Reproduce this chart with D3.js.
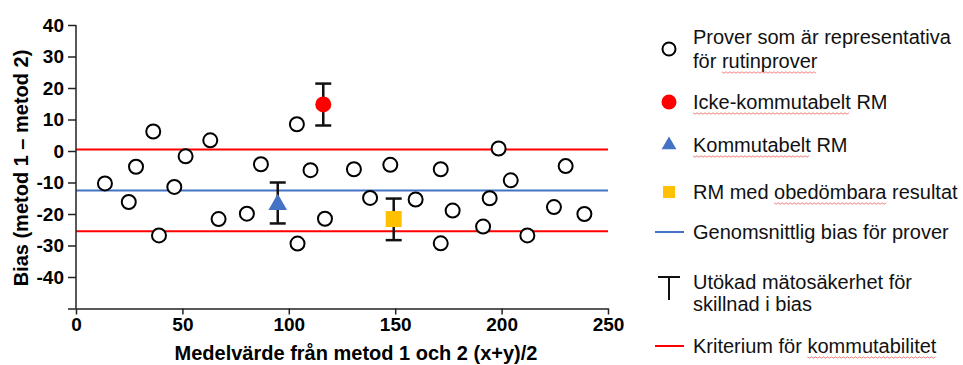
<!DOCTYPE html>
<html>
<head>
<meta charset="utf-8">
<script src="https://cdn.jsdelivr.net/npm/d3@7"></script>
<style>
  body { margin: 0; background: #fff; }
  text { font-family: "Liberation Sans", Arial, sans-serif; }
</style>
</head>
<body>
<div id="chart"></div>
<script>
// Routine samples (x = mean of both methods, y = bias)
const sampleX = [13.6, 24.8, 28.2, 36.3, 39.0, 46.2, 51.5, 63.1, 67.0, 80.3, 86.9, 103.8, 104.1, 110.2, 117.0,
  130.6, 138.2, 147.7, 159.6, 171.4, 171.4, 177.0, 191.3, 194.4, 198.6, 204.3, 212.1, 224.6, 230.1, 238.9];
const sampleY = [-10.3, -16.2, -5.0, 6.2, -26.8, -11.4, -1.7, 3.4, -21.6, -19.9, -4.2, 8.5, -29.4, -6.1, -21.5,
  -5.8, -14.9, -4.4, -15.4, -5.8, -29.3, -18.9, -24.0, -15.0, 0.8, -9.3, -26.8, -17.8, -4.8, -20.0];

// Reference materials: [x, bias, lower, upper]
const rmNonCommutable = [116.2, 14.8, 8.1, 21.4];
const rmCommutable = [94.8, -17.0, -23.0, -10.0];
const rmUnassessable = [149.3, -21.6, -28.3, -15.1];

const meanBias = -12.5;
const criterionLimits = [0.5, -25.5];

const xTicks = [0, 50, 100, 150, 200, 250];
const yTicks = [-50, -40, -30, -20, -10, 0, 10, 20, 30, 40];

const legendItems = [
  { kind: "circle", lines: ["Prover som är representativa", "för rutinprover"], wavy: ["rutinprover"] },
  { kind: "dot", lines: ["Icke-kommutabelt RM"], wavy: ["Icke-kommutabelt"] },
  { kind: "triangle", lines: ["Kommutabelt RM"], wavy: ["Kommutabelt"] },
  { kind: "square", lines: ["RM med obedömbara resultat"], wavy: ["obedömbara"] },
  { kind: "blueline", lines: ["Genomsnittlig bias för prover"], wavy: [] },
  { kind: "errbar", lines: ["Utökad mätosäkerhet för", "skillnad i bias"], wavy: [] },
  { kind: "redline", lines: ["Kriterium för kommutabilitet"], wavy: ["kommutabilitet"] }
];
const legendY = [49, 102, 145, 192, 232, 293, 346];

const RED = "#ff0000", BLUE = "#4472c4", YELLOW = "#ffc000";

const width = 963, height = 365;
const svg = d3.select("#chart").append("svg")
  .attr("width", width).attr("height", height);

const x = d3.scaleLinear().domain([0, 250]).range([76, 608]);
const y = d3.scaleLinear().domain([-50, 40]).range([308.5, 25]);

//Reference lines
svg.append("line")
  .attr("x1", x(0)).attr("x2", x(250))
  .attr("y1", y(meanBias)).attr("y2", y(meanBias))
  .attr("stroke", BLUE).attr("stroke-width", 2);
svg.selectAll(".crit").data(criterionLimits).join("line")
  .attr("class", "crit")
  .attr("x1", x(0)).attr("x2", x(250))
  .attr("y1", d => y(d)).attr("y2", d => y(d))
  .attr("stroke", RED).attr("stroke-width", 2);

//Axes
const yAxis = svg.append("g")
  .attr("transform", `translate(${x(0)},0)`)
  .call(d3.axisLeft(y).tickValues(yTicks).tickSize(8).tickPadding(4)
    .tickFormat(d => d === -50 ? "" : d));
const xAxis = svg.append("g")
  .attr("transform", `translate(0,${y(-50)})`)
  .call(d3.axisBottom(x).tickValues(xTicks).tickSize(6).tickPadding(3).tickSizeOuter(0));
[yAxis, xAxis].forEach(g => {
  g.selectAll("path, line").attr("stroke", "#222").attr("stroke-width", 1.5);
  g.selectAll("text").attr("fill", "#000")
    .style("font-family", "'Liberation Sans', Arial, sans-serif")
    .style("font-size", "19px").style("font-weight", "bold");
});
yAxis.select(".domain").attr("d", `M0,${y(40)}V${y(-50)}`);

//Axis titles
svg.append("text")
  .attr("x", 356).attr("y", 360)
  .attr("text-anchor", "middle")
  .style("font-size", "20px").style("font-weight", "bold")
  .text("Medelvärde från metod 1 och 2 (x+y)/2");
svg.append("text")
  .attr("transform", `translate(28,${168}) rotate(-90)`)
  .attr("text-anchor", "middle")
  .style("font-size", "20px").style("font-weight", "bold")
  .text("Bias (metod 1 – metod 2)");

//Error bars
function errorBar(g, cx, lo, hi, cap) {
  g.append("line").attr("x1", cx).attr("x2", cx).attr("y1", lo).attr("y2", hi)
    .attr("stroke", "#111").attr("stroke-width", 2.5);
  [lo, hi].forEach(v => g.append("line")
    .attr("x1", cx - cap / 2).attr("x2", cx + cap / 2).attr("y1", v).attr("y2", v)
    .attr("stroke", "#111").attr("stroke-width", 2.5));
}
const bars = svg.append("g");
[rmNonCommutable, rmCommutable, rmUnassessable].forEach(r =>
  errorBar(bars, x(r[0]), y(r[2]), y(r[3]), 16));

//Samples
svg.selectAll(".sample")
  .data(d3.zip(sampleX, sampleY))
  .join("circle")
  .attr("class", "sample")
  .attr("cx", d => x(d[0]))
  .attr("cy", d => y(d[1]))
  .attr("r", 7)
  .attr("fill", "#fff")
  .attr("stroke", "#000")
  .attr("stroke-width", 2);

//Reference material markers
const triangle = d3.symbol().type(d3.symbolTriangle);
svg.append("circle")
  .attr("cx", x(rmNonCommutable[0])).attr("cy", y(rmNonCommutable[1]))
  .attr("r", 8).attr("fill", RED);
svg.append("path")
  .attr("d", triangle.size(150)())
  .attr("transform", `translate(${x(rmCommutable[0])},${y(rmCommutable[1])})`)
  .attr("fill", BLUE);
svg.append("rect")
  .attr("x", x(rmUnassessable[0]) - 8).attr("y", y(rmUnassessable[1]) - 8)
  .attr("width", 16).attr("height", 16).attr("fill", YELLOW);

//Legend
const legend = svg.append("g");
const symX = 669, textX = 693;
legendItems.forEach((item, i) => {
  const cy = legendY[i];
  const g = legend.append("g");
  if (item.kind === "circle") {
    g.append("circle").attr("cx", symX).attr("cy", cy).attr("r", 6.5)
      .attr("fill", "#fff").attr("stroke", "#000").attr("stroke-width", 2);
  } else if (item.kind === "dot") {
    g.append("circle").attr("cx", symX).attr("cy", cy).attr("r", 7.5).attr("fill", RED);
  } else if (item.kind === "triangle") {
    g.append("path").attr("d", triangle.size(95)())
      .attr("transform", `translate(${symX},${cy})`).attr("fill", BLUE);
  } else if (item.kind === "square") {
    g.append("rect").attr("x", symX - 6).attr("y", cy - 6)
      .attr("width", 12).attr("height", 12).attr("fill", YELLOW);
  } else if (item.kind === "blueline" || item.kind === "redline") {
    g.append("line").attr("x1", 655).attr("x2", 684).attr("y1", cy).attr("y2", cy)
      .attr("stroke", item.kind === "blueline" ? BLUE : RED).attr("stroke-width", 2);
  } else if (item.kind === "errbar") {
    g.append("line").attr("x1", 658).attr("x2", 680).attr("y1", cy - 16).attr("y2", cy - 16)
      .attr("stroke", "#111").attr("stroke-width", 2);
    g.append("line").attr("x1", symX).attr("x2", symX).attr("y1", cy - 16).attr("y2", cy + 7)
      .attr("stroke", "#111").attr("stroke-width", 2);
  }
  const lineH = item.kind === "errbar" ? 22 : 24;
  const first = cy + 7 - (item.lines.length - 1) * lineH / 2;
  item.lines.forEach((ln, j) => {
    const t = g.append("text")
      .attr("x", textX).attr("y", first + j * lineH)
      .style("font-size", "20px").attr("fill", "#111")
      .text(ln);
    item.wavy.forEach(w => {
      const idx = ln.indexOf(w);
      if (idx < 0) return;
      const node = t.node();
      const x0 = textX + (idx > 0 ? node.getSubStringLength(0, idx) : 0);
      const x1 = x0 + node.getSubStringLength(idx, w.length);
      const wy = first + j * lineH + 4;
      const pts = d3.range(x0, x1, 2).map((px, k) => [px, wy + (k % 2 ? 1.2 : -0.2)]);
      g.append("path").attr("d", d3.line()(pts))
        .attr("fill", "none").attr("stroke", "#f06060").attr("stroke-width", 0.8);
    });
  });
});
</script>
</body>
</html>
